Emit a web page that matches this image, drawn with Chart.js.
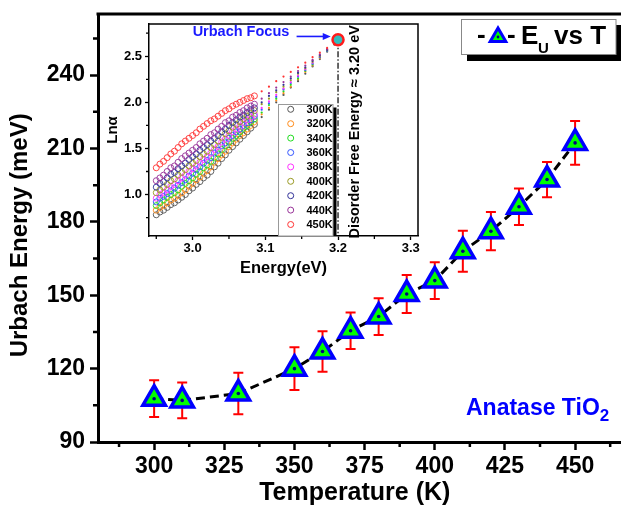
<!DOCTYPE html>
<html>
<head>
<meta charset="utf-8">
<script src="https://cdn.jsdelivr.net/npm/chart.js@4.4.1/dist/chart.umd.min.js"></script>
<style>
  html, body { margin: 0; padding: 0; background: #fff; }
  #wrap { position: relative; width: 621px; height: 505px; }
  #main { position: absolute; left: 0; top: 0; }
  #inset { position: absolute; left: 100px; top: 18px; }
</style>
</head>
<body>
<div id="wrap">
  <canvas id="main" width="621" height="505"></canvas>
  <canvas id="inset" width="330" height="272"></canvas>
</div>
<script>
// main plot: Urbach energy vs temperature
const temps = [300, 310, 330, 350, 360, 370, 380, 390, 400, 410, 420, 430, 440, 450];
const urbach = [107.7, 107.0, 109.8, 120.0, 127.0, 135.5, 141.3, 150.5, 156.0, 168.0, 176.2, 186.2, 197.3, 212.3];
const urbachErr = [7.5, 7.3, 8.5, 8.7, 8.3, 7.5, 7.5, 7.8, 7.5, 8.4, 7.8, 7.5, 7.2, 8.9];
const xTicks = [300, 325, 350, 375, 400, 425, 450];
const yTicks = [90, 120, 150, 180, 210, 240];
const xMinor = [287.5, 312.5, 337.5, 362.5, 387.5, 412.5, 437.5, 462.5];
const yMinor = [105, 135, 165, 195, 225, 255];

// inset: ln(alpha) vs photon energy, one series per temperature
const energies = [2.950, 2.955, 2.960, 2.965, 2.970, 2.975, 2.980, 2.985, 2.990, 2.995,
  3.000, 3.005, 3.010, 3.015, 3.020, 3.025, 3.030, 3.035, 3.040, 3.045,
  3.050, 3.055, 3.060, 3.065, 3.070, 3.075, 3.080, 3.085,
  3.095, 3.105, 3.115, 3.125, 3.135, 3.145, 3.155, 3.165, 3.175, 3.185, 3.195];
const denseCount = 28; // first 28 energies are the measured (circle) part, the rest is the dotted tail
const tempLabels = ['300K', '320K', '340K', '360K', '380K', '400K', '420K', '440K', '450K'];
const lnA300 = [0.78,0.81,0.83,0.86,0.89,0.91,0.94,0.97,1.00,1.04,1.07,1.11,1.14,1.18,1.21,1.25,1.30,1.34,1.39,1.43,1.48,1.52,1.56,1.60,1.64,1.68,1.72,1.76, 1.84,1.92,2.00,2.08,2.16,2.23,2.31,2.39,2.47,2.55,2.63];
const lnA320 = [0.83,0.86,0.88,0.91,0.94,0.96,0.99,1.02,1.05,1.09,1.12,1.16,1.19,1.23,1.26,1.30,1.35,1.39,1.43,1.47,1.52,1.56,1.60,1.64,1.67,1.71,1.75,1.79, 1.87,1.94,2.02,2.10,2.17,2.25,2.33,2.40,2.48,2.56,2.63];
const lnA340 = [0.88,0.91,0.94,0.97,1.00,1.02,1.05,1.09,1.12,1.15,1.18,1.22,1.25,1.29,1.32,1.36,1.40,1.44,1.49,1.53,1.57,1.61,1.64,1.68,1.72,1.75,1.79,1.82, 1.89,1.97,2.04,2.12,2.19,2.26,2.34,2.41,2.49,2.56,2.63];
const lnA360 = [0.92,0.96,0.98,1.01,1.04,1.07,1.10,1.13,1.16,1.20,1.23,1.27,1.30,1.34,1.37,1.40,1.45,1.48,1.53,1.56,1.61,1.64,1.68,1.71,1.75,1.78,1.81,1.85, 1.92,1.99,2.06,2.14,2.21,2.28,2.35,2.42,2.49,2.56,2.63];
const lnA380 = [0.96,1.00,1.02,1.05,1.09,1.11,1.15,1.18,1.21,1.25,1.28,1.31,1.35,1.38,1.41,1.45,1.49,1.52,1.57,1.60,1.64,1.68,1.71,1.74,1.78,1.81,1.84,1.87, 1.94,2.01,2.08,2.15,2.22,2.29,2.36,2.43,2.50,2.57,2.63];
const lnA400 = [1.02,1.05,1.08,1.11,1.15,1.17,1.21,1.24,1.27,1.31,1.34,1.37,1.41,1.44,1.47,1.51,1.54,1.58,1.62,1.66,1.69,1.73,1.76,1.79,1.82,1.85,1.88,1.91, 1.98,2.04,2.11,2.17,2.24,2.31,2.37,2.44,2.50,2.57,2.63];
const lnA420 = [1.08,1.12,1.14,1.18,1.22,1.24,1.28,1.31,1.34,1.38,1.41,1.44,1.48,1.51,1.54,1.58,1.61,1.64,1.68,1.71,1.75,1.78,1.81,1.84,1.86,1.89,1.92,1.94, 2.00,2.07,2.13,2.19,2.26,2.32,2.38,2.45,2.51,2.57,2.64];
const lnA440 = [1.15,1.18,1.21,1.25,1.29,1.31,1.35,1.39,1.42,1.45,1.48,1.51,1.55,1.58,1.61,1.65,1.67,1.71,1.74,1.78,1.80,1.84,1.86,1.89,1.91,1.94,1.96,1.98, 2.04,2.10,2.16,2.22,2.28,2.34,2.40,2.46,2.52,2.58,2.64];
const lnA450 = [1.29,1.33,1.36,1.40,1.44,1.47,1.51,1.55,1.58,1.61,1.64,1.67,1.71,1.74,1.77,1.80,1.82,1.85,1.88,1.91,1.93,1.96,1.98,2.00,2.02,2.04,2.05,2.07, 2.12,2.17,2.23,2.28,2.33,2.38,2.43,2.49,2.54,2.59,2.64];
const focusE = 3.20, focusLn = 2.68;
const insetXTicks = [3.0, 3.1, 3.2, 3.3];
const insetYTicks = [1.0, 1.5, 2.0, 2.5];
const insetXMinor = [2.95, 3.05, 3.15, 3.25];
const insetYMinor = [0.75, 1.25, 1.75, 2.25, 2.75];

const seriesLn = [lnA300, lnA320, lnA340, lnA360, lnA380, lnA400, lnA420, lnA440, lnA450];
const seriesColors = ['#555555', '#ff8c1a', '#22dd22', '#3355ff', '#ff33ff', '#999922', '#333399', '#993399', '#ff3333'];

const FONT = "'Liberation Sans', Arial, sans-serif";
Chart.defaults.font.family = FONT;
Chart.defaults.color = '#000';

// drop the label overhang padding so the plot box sits where the figure has it
const noPad = s => { s.paddingLeft = 0; s.paddingRight = 0; s.paddingTop = 0; s.paddingBottom = 0; };

// ---------- main chart ----------
const mainDecor = {
  id: 'mainDecor',
  beforeDatasetsDraw(chart) {
    const {ctx, scales: {x, y}} = chart;
    ctx.save();
    ctx.strokeStyle = '#ff0000';
    ctx.lineWidth = 2;
    temps.forEach((t, i) => {
      const px = x.getPixelForValue(t);
      const top = y.getPixelForValue(urbach[i] + urbachErr[i]);
      const bot = y.getPixelForValue(urbach[i] - urbachErr[i]);
      ctx.beginPath();
      ctx.moveTo(px, top); ctx.lineTo(px, bot);
      ctx.moveTo(px - 5, top); ctx.lineTo(px + 5, top);
      ctx.moveTo(px - 5, bot); ctx.lineTo(px + 5, bot);
      ctx.stroke();
    });
    ctx.restore();
  },
  afterDraw(chart) {
    const {ctx, chartArea, scales: {x, y}} = chart;
    ctx.save();
    // top frame
    ctx.strokeStyle = '#000';
    ctx.lineWidth = 3;
    ctx.beginPath();
    ctx.moveTo(chartArea.left - 1.5, chartArea.top);
    ctx.lineTo(chart.width, chartArea.top);
    ctx.stroke();
    // minor ticks
    ctx.lineWidth = 2.5;
    ctx.beginPath();
    xMinor.forEach(v => {
      const px = x.getPixelForValue(v);
      ctx.moveTo(px, chartArea.bottom); ctx.lineTo(px, chartArea.bottom + 5);
    });
    yMinor.forEach(v => {
      const py = y.getPixelForValue(v);
      ctx.moveTo(chartArea.left, py); ctx.lineTo(chartArea.left - 5, py);
    });
    ctx.stroke();

    // axis titles (the figure has them off-centre, so they are placed by hand)
    ctx.fillStyle = '#000';
    ctx.textAlign = 'center';
    ctx.textBaseline = 'middle';
    ctx.font = 'bold 25px ' + FONT;
    ctx.fillText('Temperature (K)', x.getPixelForValue(371.5), 493);
    ctx.save();
    ctx.translate(20, y.getPixelForValue(174.5));
    ctx.rotate(-Math.PI / 2);
    ctx.font = 'bold 24px ' + FONT;
    ctx.fillText('Urbach Energy (meV)', 0, 0);
    ctx.restore();
    ctx.textAlign = 'left';

    // legend box with shadow
    ctx.fillStyle = '#000';
    ctx.fillRect(467, 25, 154, 36);
    ctx.fillStyle = '#fff';
    ctx.fillRect(461.5, 19.5, 154.5, 35);
    ctx.strokeStyle = '#888';
    ctx.lineWidth = 1;
    ctx.strokeRect(461.5, 19.5, 154.5, 35);
    ctx.fillStyle = '#000';
    ctx.font = 'bold 26px ' + FONT;
    ctx.textBaseline = 'alphabetic';
    ctx.fillText('-', 477, 43);
    ctx.fillText('-', 507, 43);
    ctx.fillStyle = '#00ff00';
    ctx.strokeStyle = '#0000ff';
    ctx.lineWidth = 3;
    Chart.helpers.drawPoint(ctx, {pointStyle: 'triangle', radius: 9, borderWidth: 3, rotation: 0}, 498, 37);
    ctx.fillStyle = '#000080';
    ctx.beginPath(); ctx.arc(498, 37, 1.4, 0, Math.PI * 2); ctx.fill();
    ctx.fillStyle = '#000';
    ctx.font = 'bold 26px ' + FONT;
    ctx.fillText('E', 521, 43.5);
    ctx.font = 'bold 15px ' + FONT;
    ctx.fillText('U', 538, 53);
    ctx.font = 'bold 26px ' + FONT;
    ctx.fillText('vs T', 554, 43.5);

    // sample label
    ctx.fillStyle = '#0000ff';
    ctx.font = 'bold 23px ' + FONT;
    ctx.fillText('Anatase TiO', 466, 415);
    const w = ctx.measureText('Anatase TiO').width;
    ctx.font = 'bold 17px ' + FONT;
    ctx.fillText('2', 466 + w, 421);
    ctx.restore();
  }
};

const mainPoints = temps.map((t, i) => ({x: t, y: urbach[i]}));

new Chart(document.getElementById('main'), {
  type: 'scatter',
  data: {
    datasets: [
      {
        label: 'EU vs T',
        data: mainPoints,
        showLine: true,
        borderColor: '#000',
        borderWidth: 3,
        borderDash: [9, 5],
        pointStyle: 'triangle',
        pointRadius: 13,
        pointBorderWidth: 3.5,
        pointBorderColor: '#0000ff',
        pointBackgroundColor: '#00ff00',
        order: 1
      },
      {
        label: 'centre',
        data: mainPoints,
        showLine: false,
        pointRadius: 1.8,
        pointBorderWidth: 0,
        pointBackgroundColor: '#000080',
        order: 0
      }
    ]
  },
  options: {
    responsive: false,
    animation: false,
    devicePixelRatio: 1,
    layout: {autoPadding: false, padding: {top: 14, right: 1, left: 0, bottom: 0}},
    plugins: {legend: {display: false}, tooltip: {enabled: false}},
    scales: {
      x: {
        type: 'linear', min: 280, max: 466,
        afterBuildTicks: s => { s.ticks = xTicks.map(v => ({value: v})); },
        afterFit: s => { s.height = 63; noPad(s); },
        border: {color: '#000', width: 3},
        grid: {drawOnChartArea: false, tickLength: 8, tickWidth: 2.5, tickColor: '#000'},
        ticks: {font: {size: 23, weight: 'bold'}, color: '#000', padding: 3, maxRotation: 0}
      },
      y: {
        type: 'linear', min: 90, max: 265,
        afterBuildTicks: s => { s.ticks = yTicks.map(v => ({value: v})); },
        afterFit: s => { s.width = 98; noPad(s); },
        border: {color: '#000', width: 3},
        grid: {drawOnChartArea: false, tickLength: 8, tickWidth: 2.5, tickColor: '#000'},
        ticks: {font: {size: 23, weight: 'bold'}, color: '#000', padding: 5}
      }
    }
  },
  plugins: [mainDecor]
});

// ---------- inset chart ----------
const insetDecor = {
  id: 'insetDecor',
  beforeDraw(chart) {
    const {ctx, chartArea} = chart;
    ctx.save();
    ctx.fillStyle = '#fff';
    ctx.fillRect(chartArea.left, chartArea.top, chartArea.width, chartArea.height);
    ctx.restore();
  },
  afterDraw(chart) {
    const {ctx, chartArea: ca, scales: {x, y}} = chart;
    ctx.save();
    ctx.strokeStyle = '#000';
    ctx.lineWidth = 1.5;
    ctx.beginPath();
    ctx.moveTo(ca.left, ca.top); ctx.lineTo(ca.right, ca.top); ctx.lineTo(ca.right, ca.bottom);
    ctx.stroke();
    ctx.lineWidth = 1.3;
    ctx.beginPath();
    insetXMinor.forEach(v => {
      const px = x.getPixelForValue(v);
      ctx.moveTo(px, ca.bottom); ctx.lineTo(px, ca.bottom + 3);
    });
    insetYMinor.forEach(v => {
      const py = y.getPixelForValue(v);
      ctx.moveTo(ca.left, py); ctx.lineTo(ca.left - 3, py);
    });
    ctx.stroke();

    // legend box
    const bx = 178.5, by = 86.5, bw = 54.5, bh = ca.bottom - by;
    ctx.fillStyle = '#000';
    ctx.fillRect(bx + bw, by + 3, 3.5, bh - 3);
    ctx.fillStyle = '#fff';
    ctx.fillRect(bx, by, bw, bh);
    ctx.strokeStyle = '#999';
    ctx.lineWidth = 1;
    ctx.strokeRect(bx, by, bw, bh);
    ctx.font = 'bold 11px ' + FONT;
    ctx.textBaseline = 'middle';
    tempLabels.forEach((lab, i) => {
      const ry = 91.3 + i * 14.4;
      ctx.strokeStyle = seriesColors[i];
      ctx.lineWidth = 1;
      ctx.beginPath(); ctx.arc(190.7, ry, 3, 0, Math.PI * 2); ctx.stroke();
      ctx.fillStyle = '#000';
      ctx.fillText(lab, 206.5, ry + 0.5);
    });

    // Urbach focus annotation
    ctx.fillStyle = '#1a1aff';
    ctx.strokeStyle = '#1a1aff';
    ctx.font = 'bold 14.5px ' + FONT;
    ctx.textAlign = 'right';
    ctx.fillText('Urbach Focus', x.getPixelForValue(3.133), y.getPixelForValue(2.76));
    const ay = y.getPixelForValue(2.715);
    const ax0 = x.getPixelForValue(3.143), ax1 = x.getPixelForValue(3.19);
    ctx.lineWidth = 1.6;
    ctx.beginPath(); ctx.moveTo(ax0, ay); ctx.lineTo(ax1 - 6, ay); ctx.stroke();
    ctx.beginPath();
    ctx.moveTo(ax1, ay); ctx.lineTo(ax1 - 8, ay - 3.5); ctx.lineTo(ax1 - 8, ay + 3.5); ctx.closePath();
    ctx.fill();

    // rotated label next to the dash-dot line
    ctx.fillStyle = '#000';
    ctx.font = 'bold 14.5px ' + FONT;
    ctx.textAlign = 'center';
    ctx.translate(x.getPixelForValue(3.224), y.getPixelForValue(1.68));
    ctx.rotate(-Math.PI / 2);
    ctx.fillText('Disorder Free Energy \u2248 3.20 eV', 0, 0);
    ctx.restore();
  }
};

const insetSets = seriesLn.map((vals, i) => ({
  label: tempLabels[i],
  data: energies.map((e, k) => ({x: e, y: vals[k]})),
  showLine: false,
  pointStyle: 'circle',
  pointRadius: c => c.dataIndex < denseCount ? 3 : 1.1,
  pointBorderWidth: c => c.dataIndex < denseCount ? 0.9 : 0,
  pointBorderColor: seriesColors[i],
  pointBackgroundColor: c => c.dataIndex < denseCount ? 'rgba(0,0,0,0)' : seriesColors[i],
  order: seriesLn.length - i
}));

insetSets.push({
  label: 'focus line',
  data: [{x: focusE, y: focusLn}, {x: focusE, y: 0.55}],
  showLine: true,
  borderColor: '#000',
  borderWidth: 1.2,
  borderDash: [6, 2, 1.5, 2],
  pointRadius: 0,
  order: 20
});
insetSets.push({
  label: 'focus',
  data: [{x: focusE, y: focusLn}],
  showLine: false,
  pointRadius: 5.5,
  pointBorderWidth: 2.5,
  pointBorderColor: '#ff1a1a',
  pointBackgroundColor: '#33bbbb',
  order: -1
});

new Chart(document.getElementById('inset'), {
  type: 'scatter',
  data: {datasets: insetSets},
  options: {
    responsive: false,
    animation: false,
    devicePixelRatio: 1,
    layout: {autoPadding: false, padding: {top: 6, right: 12, left: 0, bottom: 0}},
    plugins: {legend: {display: false}, tooltip: {enabled: false}},
    scales: {
      x: {
        type: 'linear', min: 2.94, max: 3.31,
        afterBuildTicks: s => { s.ticks = insetXTicks.map(v => ({value: v})); },
        afterFit: s => { s.height = 54; noPad(s); },
        border: {color: '#000', width: 1.5},
        grid: {drawOnChartArea: false, tickLength: 4, tickWidth: 1.3, tickColor: '#000'},
        ticks: {font: {size: 13, weight: 'bold'}, color: '#000', padding: 1, maxRotation: 0,
          callback: v => Number(v).toFixed(1)},
        title: {display: true, text: 'Energy(eV)', color: '#000',
          font: {size: 16.5, weight: 'bold', lineHeight: 1}, padding: {top: 0, bottom: 13}}
      },
      y: {
        type: 'linear', min: 0.55, max: 2.85,
        afterBuildTicks: s => { s.ticks = insetYTicks.map(v => ({value: v})); },
        afterFit: s => { s.width = 49; noPad(s); },
        border: {color: '#000', width: 1.5},
        grid: {drawOnChartArea: false, tickLength: 4, tickWidth: 1.3, tickColor: '#000'},
        ticks: {font: {size: 13, weight: 'bold'}, color: '#000', padding: 3,
          callback: v => Number(v).toFixed(1)},
        title: {display: true, text: 'Ln\u03b1', color: '#000',
          font: {size: 15, weight: 'bold', lineHeight: 1}, padding: {top: 5, bottom: 0}}
      }
    }
  },
  plugins: [insetDecor]
});
</script>
</body>
</html>
